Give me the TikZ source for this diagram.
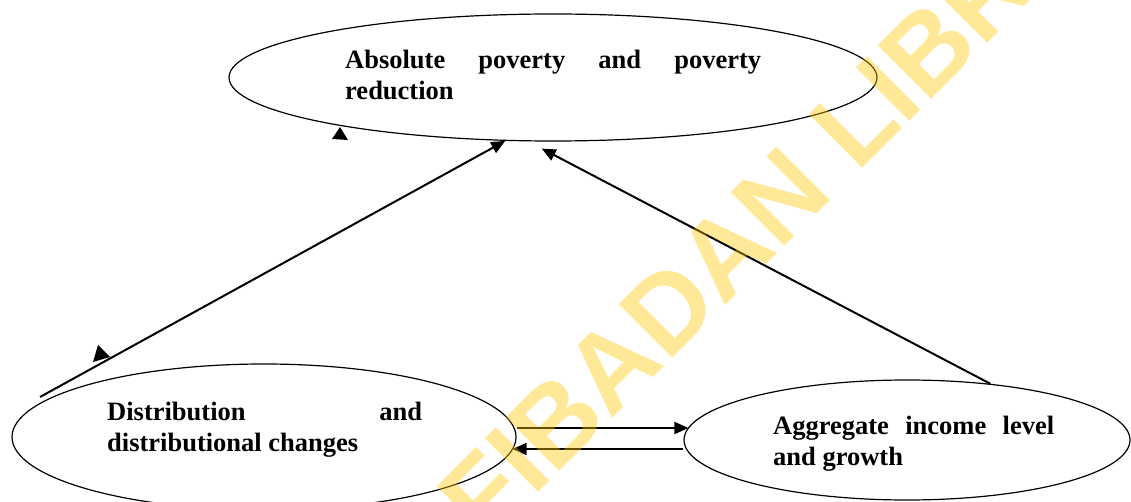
\documentclass[tikz,border=0pt]{standalone}
\usepackage{fontspec}
\setmainfont{Liberation Serif}
\newfontfamily\wmfont{Liberation Sans}
\usetikzlibrary{shapes.geometric,arrows.meta}
\definecolor{wmyellow}{RGB}{255,200,0}
\begin{document}
\begin{tikzpicture}[x=1pt,y=-1pt,
  oval/.style={draw, ellipse, line width=1.2pt, inner sep=0pt},
  arr/.style={line width=2pt, -{Triangle[length=14pt,width=12pt]}},
  lbl/.style={anchor=base west, inner sep=0pt, font=\bfseries\fontsize{26.5}{31}\selectfont},
  wm/.style={anchor=base west, inner sep=0pt, rotate=45, text=wmyellow, text opacity=0.4,
    font=\wmfont\bfseries\fontsize{110}{110}\selectfont}]
\useasboundingbox (0,0) rectangle (1131,502);
\begin{scope}
\clip (0,0) rectangle (1131,502);
% ellipses
\node[oval, minimum width=648pt, minimum height=127pt] (top) at (553,77.5) {};
\node[oval, minimum width=504pt, minimum height=146pt] (dist) at (264,437) {};
\node[oval, minimum width=446pt, minimum height=120pt] (agg) at (907,440) {};
% labels
\node[lbl] (toplbl) at (345,68.3) {\parbox[t]{416pt}{\makebox[416pt][s]{Absolute poverty and poverty}\\reduction}};
\node[lbl] (distlbl) at (107,420) {\parbox[t]{315pt}{\makebox[315pt][s]{Distribution and}\\distributional changes}};
\node[lbl] (agglbl) at (773,434.3) {\parbox[t]{281pt}{\makebox[281pt][s]{Aggregate income level}\\and growth}};
% connectors
\coordinate (l1s) at (40,397);
\draw[arr] (l1s) -- (top.233.3);
\draw[arr] (agg.34.7) -- ([yshift=-7pt]top.260);
\coordinate (a1s) at ([yshift=9pt]dist.east);
\draw[arr, shorten >=-5pt] (a1s) -- (a1s -| agg.west);
\coordinate (a2s) at ([yshift=-9pt]agg.west);
\draw[arr, shorten >=-4pt] (a2s) -- (a2s -| dist.east);
% stray arrowheads
\fill (340,127) -- (332,139) -- (348,140) -- cycle;
\fill (98,345) -- (93,362) -- (110,357) -- cycle;
% watermark
\node[wm] (wm1) at (533,498) {IBADAN LIBRARY};
\node[wm, anchor=base east] (wm0) at (wm1.base west) {UNIVERSITY OF\ };
\end{scope}
\end{tikzpicture}
\end{document}
